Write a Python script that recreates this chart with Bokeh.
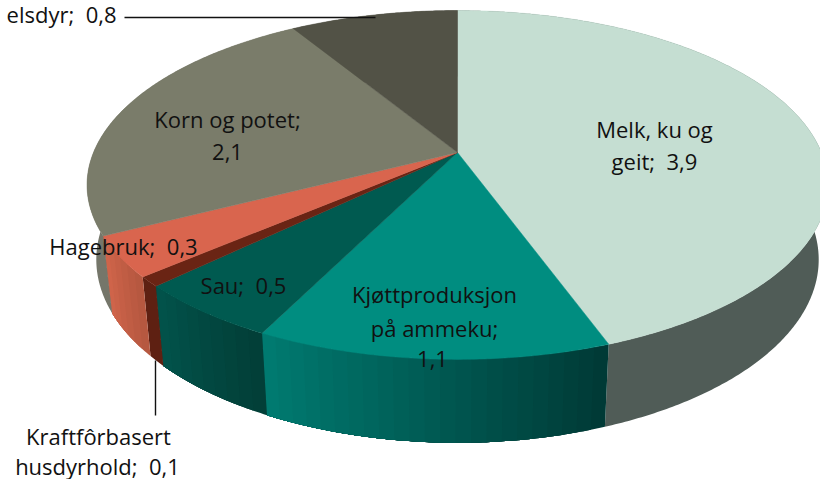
import numpy as np
from bokeh.plotting import figure
from bokeh.models import Range1d
from bokeh.core.properties import value
from bokeh.embed import file_html
from bokeh.resources import INLINE

# ---- data (labels show one decimal; shares)
categories = ["Melk, ku og geit", "Kjøttproduksjon på ammeku", "Sau", "Kraftfôrbasert husdyrhold",
              "Hagebruk", "Korn og potet", "elsdyr"]
values = [3.91, 1.14, 0.48, 0.08, 0.33, 2.09, 0.77]
top_colors = ["#c5ded2", "#008d80", "#005a50", "#6a2414", "#d9654e", "#7a7c6a", "#525246"]
wall_from = ["#505c57", "#003a36", "#023f38", "#5e2012", "#b65840", "#75766a", "#525246"]
wall_to = ["#505c57", "#007a70", "#02524a", "#5e2012", "#cf644a", "#75766a", "#525246"]

NB = "\u00a0"
label_text = ["Melk, ku og", f"geit;{NB} 3,9", "Kjøttproduksjon", "på ammeku;", "1,1", f"Sau;{NB} 0,5",
              f"Hagebruk;{NB} 0,3", "Korn og potet;", "2,1", "Kraftfôrbasert", f"husdyrhold;{NB} 0,1"]
label_x = [654, 654, 434, 434, 432, 243, 123, 227, 227, 98, 97]
label_y = [128, 160, 293, 327, 358, 284, 245, 118, 151, 435, 465]

# ---- projection of the pie disc onto the screen (pixel units)
CX, CY, R, S, K = 457, 152, 364, 168.4, 0.186
WALL_Y, WALL_SX, WALL_SY = 225, 0.975, 1.05


def top(theta):
    u, v = np.sin(theta), -np.cos(theta)
    w = 1 - K * v
    return CX + R * u / w, CY + S * v / w


def bottom(theta):
    x, y = top(theta)
    return CX + WALL_SX * (x - CX), WALL_Y + WALL_SY * (y - CY)


def hex_mix(a, b, t):
    ca = np.array([int(a[i:i + 2], 16) for i in (1, 3, 5)])
    cb = np.array([int(b[i:i + 2], 16) for i in (1, 3, 5)])
    c = np.round(ca + (cb - ca) * t).astype(int)
    return "#%02x%02x%02x" % tuple(c)


edges = np.concatenate([[0], np.cumsum(values)]) / np.sum(values) * 2 * np.pi
STEP = np.radians(2.0)

p = figure(width=820, height=479, x_range=Range1d(0, 820), y_range=Range1d(479, 0),
           output_backend="svg", toolbar_location=None, min_border=0,
           x_axis_location=None, y_axis_location=None,
           background_fill_color="white", border_fill_color="white", outline_line_color=None)
p.grid.visible = False

# walls: everything behind the top face is painted over by it
for a0, a1, c0, c1 in zip(edges[:-1], edges[1:], wall_from, wall_to):
    n = 1 if c0 == c1 else max(2, int((a1 - a0) / STEP))
    th = np.linspace(a0, a1, n + 1)
    for i in range(n):
        # each band runs on to the end of the slice; the next band paints over it, so no seams
        t = np.linspace(th[i], a1, max(3, int((a1 - th[i]) / np.radians(0.5))))
        xt, yt = top(t)
        xb, yb = bottom(t[::-1])
        col = hex_mix(c0, c1, i / max(1, n - 1))
        p.patch(np.concatenate([xt, xb]).tolist(), np.concatenate([yt, yb]).tolist(),
                fill_color=col, line_color=None)

# top faces
for a0, a1, c in zip(edges[:-1], edges[1:], top_colors):
    t = np.linspace(a0, a1, max(3, int((a1 - a0) / np.radians(0.5))))
    x, y = top(t)
    p.patch([CX] + x.tolist(), [CY] + y.tolist(), fill_color=c, line_color=c, line_width=0.5)

# leader lines
p.line([124, 375], [17, 17], line_color="#111111", line_width=1.6)
p.line([155, 155], [360, 415], line_color="#111111", line_width=1.4)

font = value("Open Sans")
p.text(label_x, label_y, text=label_text, text_font=font, text_font_size="22px",
       text_color="#111111", text_align="center", text_baseline="middle")
p.text([116], [13], text=[f"elsdyr;{NB} 0,8"], text_font=font, text_font_size="22px",
       text_color="#111111", text_align="right", text_baseline="middle")

open("out.html", "w").write(file_html(p, INLINE))
